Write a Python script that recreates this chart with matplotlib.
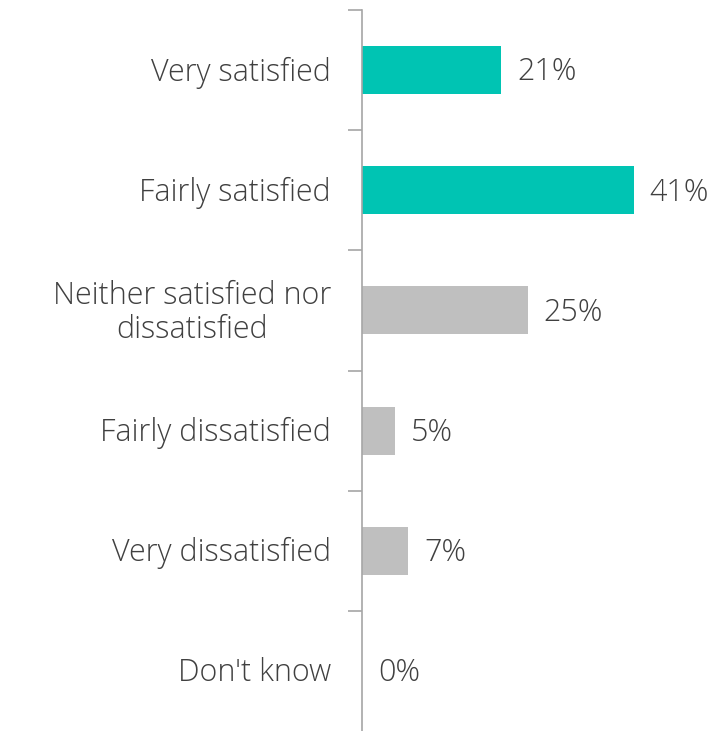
import matplotlib.pyplot as plt
import numpy as np

categories = ['Very satisfied', 'Fairly satisfied', 'Neither satisfied nor\ndissatisfied',
              'Fairly dissatisfied', 'Very dissatisfied', "Don't know"]
values = [21, 41, 25, 5, 7, 0]
colors = ['#00C4B3', '#00C4B3', '#BFBFBF', '#BFBFBF', '#BFBFBF', '#BFBFBF']

plt.rcParams['font.family'] = ['Open Sans', 'DejaVu Sans']
text_color = '#404040'

fig = plt.figure(figsize=(7.13, 7.31), dpi=100)
ax = fig.add_axes([362 / 713, 0, 351 / 713, 721 / 731])

y = np.arange(len(categories))
ax.barh(y, values, height=0.4, color=colors)
ax.set_ylim(len(categories) - 0.5, -0.5)
ax.set_xlim(0, 351 / 6.63)

for yi, v in zip(y, values):
    ax.text(v + 2.4, yi + 0.02, '{}%'.format(v), va='center', ha='left',
            fontsize=22, color=text_color, fontweight='light')

for yi, c in zip(y, categories):
    ax.text(-31 / 6.63, yi + 0.02, c, va='center', ha='right', multialignment='center',
            fontsize=22, color=text_color, fontweight='light', linespacing=1.1)

ax.set_yticks(np.arange(-0.5, len(categories) - 0.5, 1))
ax.set_yticklabels([])
ax.tick_params(axis='y', length=10, width=1.2, color='#A6A6A6')
ax.set_xticks([])
for s in ['top', 'right', 'bottom']:
    ax.spines[s].set_visible(False)
ax.spines['left'].set_color('#A6A6A6')
ax.spines['left'].set_linewidth(1.2)

fig.savefig('out.png', dpi=100)
